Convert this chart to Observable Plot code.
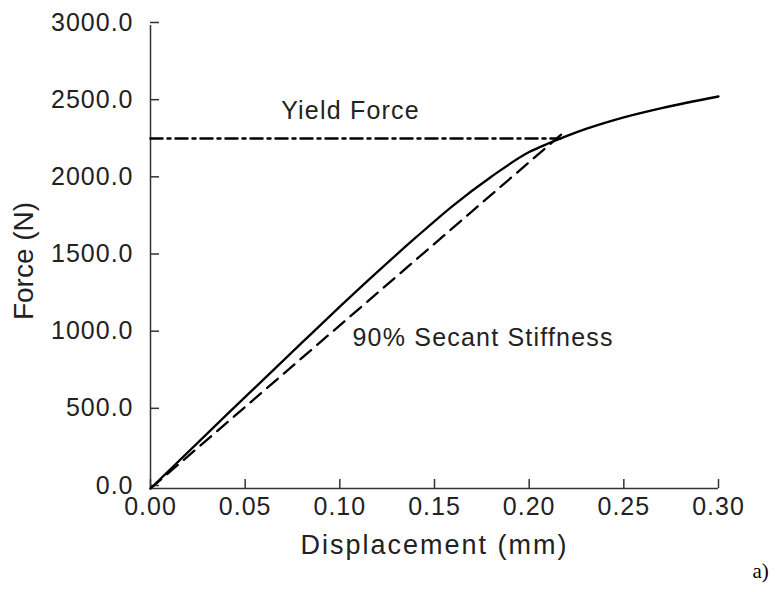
<!DOCTYPE html>
<html>
<head>
<meta charset="utf-8">
<script src="https://cdn.jsdelivr.net/npm/d3@7"></script>
<script src="https://cdn.jsdelivr.net/npm/@observablehq/plot@0.6"></script>
<style>
  html, body { margin: 0; padding: 0; background: #fff; }
  #chart svg { font-family: "Liberation Sans", Arial, Helvetica, sans-serif; }
  #chart svg g[aria-label="x-axis tick label"] text,
  #chart svg g[aria-label="y-axis tick label"] text { letter-spacing: 1px; }
  #chart svg g.xtitle text { letter-spacing: 2px; }
  #chart svg g.ann text { letter-spacing: 1.2px; }
</style>
</head>
<body>
<div id="chart"></div>
<script>
// Force-displacement curve
const displacement = [0, 0.04, 0.08, 0.10, 0.12, 0.14, 0.16, 0.18, 0.20, 0.21, 0.22, 0.23, 0.25, 0.27, 0.30];
const force        = [0, 475,  945,  1178, 1405, 1625, 1835, 2020, 2180, 2235, 2285, 2330, 2405, 2465, 2540];

// 90% secant stiffness line
const secantDisp  = [0, 0.218];
const secantForce = [0, 2305];

// Yield force level
const yieldDisp  = [0, 0.2166];
const yieldForce = 2268;

// Axis ticks
const xTicks = [0, 0.05, 0.10, 0.15, 0.20, 0.25, 0.30];
const yTicks = [0, 500, 1000, 1500, 2000, 2500, 3000];

// Texts
const xTitle = "Displacement (mm)";
const yTitle = "Force (N)";
const yieldLabel = "Yield Force";
const secantLabel = "90% Secant Stiffness";
const panelLabel = "a)";

const curve = displacement.map((d, i) => ({x: d, y: force[i]}));
const secant = secantDisp.map((d, i) => ({x: d, y: secantForce[i]}));
const yieldLine = yieldDisp.map(d => ({x: d, y: yieldForce}));

const axisColor = "#333";
const textColor = "#222";

const chart = Plot.plot({
  width: 777,
  height: 592,
  marginTop: 25,
  marginLeft: 150,
  marginRight: 59,
  marginBottom: 104,
  style: {background: "#fff", color: textColor},
  x: {domain: [0, 0.3]},
  y: {domain: [0, 3000]},
  marks: [
    Plot.ruleX([0], {stroke: axisColor, strokeWidth: 1.5}),
    Plot.ruleY([0], {stroke: axisColor, strokeWidth: 1.5}),
    Plot.axisX({ticks: xTicks, tickFormat: d3.format(".2f"), tickSize: -9, tickPadding: 18,
      fontSize: 25, stroke: axisColor, strokeWidth: 1.5, label: null, fill: textColor}),
    Plot.axisY({ticks: yTicks, tickFormat: d3.format(".1f"), tickSize: -9, tickPadding: 26,
      fontSize: 25, stroke: axisColor, strokeWidth: 1.5, label: null, dy: -3, fill: textColor}),
    Plot.line(yieldLine, {x: "x", y: "y", stroke: "#000", strokeWidth: 2.5, strokeDasharray: "12,5,3,5"}),
    Plot.line(secant, {x: "x", y: "y", stroke: "#000", strokeWidth: 2.3, strokeDasharray: "14,8"}),
    Plot.line(curve, {x: "x", y: "y", stroke: "#000", strokeWidth: 2.3, curve: "monotone-x"}),
    Plot.text([yieldLabel], {x: 0.069, y: yieldForce, text: d => d, dy: -27, textAnchor: "start",
      fontSize: 25, fill: textColor, className: "ann"}),
    Plot.text([secantLabel], {x: 0.1067, y: 972, text: d => d, textAnchor: "start",
      fontSize: 25, fill: textColor, className: "ann"}),
    Plot.text([xTitle], {frameAnchor: "bottom", text: d => d, dy: 65, fontSize: 27, fill: textColor, className: "xtitle"}),
    Plot.text([yTitle], {frameAnchor: "left", text: d => d, rotate: -90, textAnchor: "middle", dx: -126, dy: 4,
      fontSize: 28, fill: textColor}),
    Plot.text([panelLabel], {frameAnchor: "bottom-right", text: d => d, textAnchor: "start", dx: 34, dy: 89,
      fontSize: 21, fontFamily: "Liberation Serif, Times New Roman, serif", fill: "#000"})
  ]
});
document.getElementById("chart").appendChild(chart);
</script>
</body>
</html>
